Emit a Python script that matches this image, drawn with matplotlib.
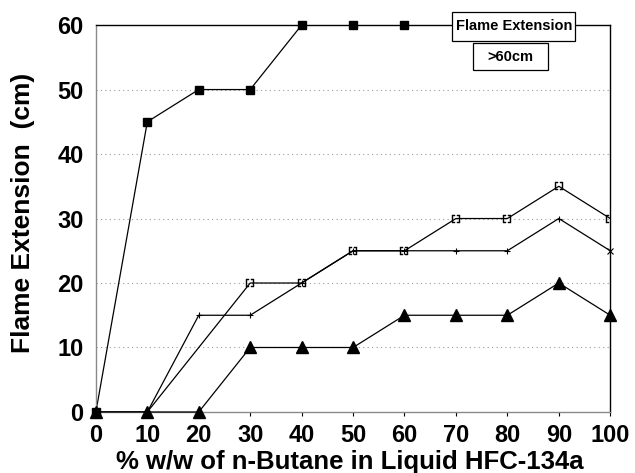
import numpy as np
import matplotlib.pyplot as plt
from matplotlib.patches import Rectangle

plt.rcParams['font.family'] = ['Liberation Sans', 'DejaVu Sans']
plt.rcParams['font.weight'] = 'bold'

butane_pct = [0, 10, 20, 30, 40, 50, 60, 70, 80, 90, 100]

# flame extension (cm) for each sample set; 60 means beyond the 60 cm limit
ext_square = [0, 45, 50, 50, 60, 60, 60, 60, 60, 60, 60]
ext_bracket = [0, 0, 10, 20, 20, 25, 25, 30, 30, 35, 30]
ext_cross = [0, 0, 15, 15, 20, 25, 25, 25, 25, 30, 25]
ext_triangle = [0, 0, 0, 10, 10, 10, 15, 15, 15, 20, 15]

# the square series only has markers up to 60 %
n_square_marks = 7

xticks = [0, 10, 20, 30, 40, 50, 60, 70, 80, 90, 100]
yticks = [0, 10, 20, 30, 40, 50, 60]

fig = plt.figure(figsize=(6.35, 4.73), dpi=100)
ax = fig.add_axes([0.151, 0.129, 0.810, 0.818])

for y in yticks[1:-1]:
    ax.axhline(y, color='#9a9a9a', lw=0.8, ls=(0, (1, 3)), zorder=0)

ax.plot(butane_pct, ext_square, color='black', lw=0.9, zorder=2)
ax.plot(butane_pct[:n_square_marks], ext_square[:n_square_marks], ls='none',
        marker='s', ms=6, color='black', clip_on=False, zorder=3)

ax.plot(butane_pct, ext_bracket, color='black', lw=0.9, zorder=2)
ax.plot(butane_pct[3:], ext_bracket[3:], ls='none', marker='$[\\,]$', ms=6,
        color='black', mew=0.3, zorder=3)

ax.plot(butane_pct, ext_cross, color='black', lw=0.9, zorder=2)
ax.plot(butane_pct[2:-1], ext_cross[2:-1], ls='none', marker='+', ms=4,
        color='black', mew=0.8, zorder=3)
ax.plot(butane_pct[-1:], ext_cross[-1:], ls='none', marker='x', ms=5,
        color='black', mew=0.8, clip_on=False, zorder=3)

ax.plot(butane_pct, ext_triangle, color='black', lw=0.9, marker='^', ms=9,
        clip_on=False, zorder=3)

ax.set_xlim(0, 100)
ax.set_ylim(0, 60)
ax.set_xticks(xticks)
ax.set_yticks(yticks)
ax.tick_params(axis='both', labelsize=17)
ax.tick_params(axis='x', direction='out', length=3, width=0.8, pad=6)
ax.tick_params(axis='y', length=0, pad=9)

ax.spines['left'].set_color('#8a8a8a')
ax.spines['bottom'].set_color('#8a8a8a')
ax.spines['top'].set_color('black')
ax.spines['right'].set_color('black')
for s in ax.spines.values():
    s.set_linewidth(1.0)

ax.set_xlabel('% w/w of n-Butane in Liquid HFC-134a', fontsize=18.5,
              fontweight='bold', va='baseline')
ax.xaxis.set_label_coords(0.494, -0.147)
ax.set_ylabel('Flame Extension  (cm)', fontsize=19, fontweight='bold')
ax.yaxis.set_label_coords(-0.119, 0.515)

# annotation boxes at the top right, in axes fractions
for (x0, x1, y0, y1), label in [((0.693, 0.932, 0.959, 1.034), 'Flame Extension'),
                                ((0.733, 0.879, 0.884, 0.953), '>60cm')]:
    ax.add_patch(Rectangle((x0, y0), x1 - x0, y1 - y0, transform=ax.transAxes,
                           fc='white', ec='black', lw=0.9, clip_on=False,
                           zorder=5))
    ax.text((x0 + x1) / 2, (y0 + y1) / 2, label, transform=ax.transAxes,
            ha='center', va='center', fontsize=10.5, fontweight='bold',
            zorder=6)

fig.savefig('out.png', dpi=100)
